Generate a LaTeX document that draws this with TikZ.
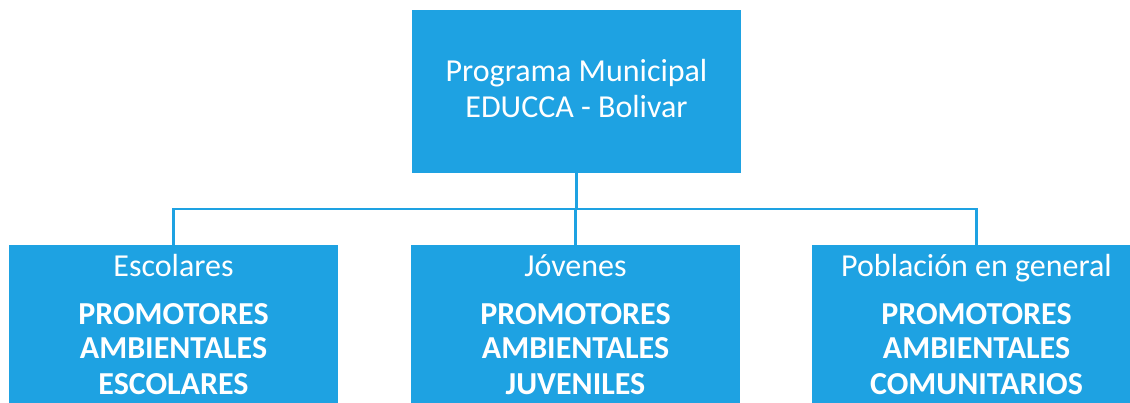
\documentclass[tikz,border=0pt]{standalone}
\usepackage{fontspec}
\setmainfont{Carlito}
\definecolor{boxblue}{RGB}{30,162,226}
\begin{document}
\begin{tikzpicture}[x=1pt,y=-1pt,
  box/.style={fill=boxblue,draw=none,minimum width=329pt,minimum height=163pt,inner sep=0pt,outer sep=0pt},
  head/.style={text=white,font=\fontsize{32}{38}\selectfont,anchor=base,inner sep=0pt},
  bold/.style={text=white,font=\fontsize{32}{38}\selectfont\bfseries,anchor=base,inner sep=0pt},
  conn/.style={draw=boxblue,line width=2.4pt}]
\useasboundingbox (0,0) rectangle (1130,403);
\clip (0,0) rectangle (1130,403);
\fill[white] (0,0) rectangle (1130,403);
% boxes
\node[box] (top) at (576.5,91.5) {};
\node[box] (b1) at (173.5,326.5) {};
\node[box] (b2) at (575.5,326.5) {};
\node[box] (b3) at (976.5,326.5) {};
% connectors
\coordinate (busL) at (173.5,209);
\coordinate (busR) at (976.5,209);
\draw[conn] (top.south) -- (top.south |- busL);
\draw[conn] (b1.north) -- (busL) -- (busR) -- (b3.north);
\draw[conn] (b2.north) -- (b2.north |- busL);
% top text
\node[head] (t1) at (576.5,82) {Programa Municipal};
\node[head] (t2) at (576.5,118) {EDUCCA - Bolivar};
% left
\node[head] (l1) at (173.5,277) {Escolares};
\node[bold] (l2) at (173.5,325) {PROMOTORES};
\node[bold] (l3) at (173.5,359) {AMBIENTALES};
\node[bold] (l4) at (173.5,394) {ESCOLARES};
% middle
\node[head] (m1) at (575.5,277) {Jóvenes};
\node[bold] (m2) at (575.5,325) {PROMOTORES};
\node[bold] (m3) at (575.5,359) {AMBIENTALES};
\node[bold] (m4) at (575.5,394) {JUVENILES};
% right
\node[head] (r1) at (976.5,277) {Población en general};
\node[bold] (r2) at (976.5,325) {PROMOTORES};
\node[bold] (r3) at (976.5,359) {AMBIENTALES};
\node[bold] (r4) at (976.5,394) {COMUNITARIOS};
\end{tikzpicture}
\end{document}
